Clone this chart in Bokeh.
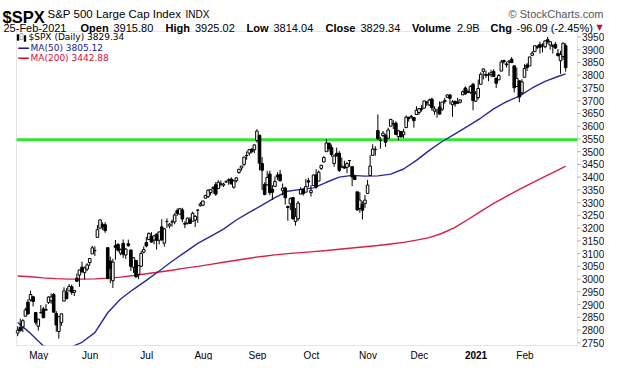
import pandas as pd
from bokeh.plotting import figure
from bokeh.models import Range1d, Label, BoxAnnotation
from bokeh.embed import file_html
from bokeh.resources import INLINE

# ---------------- data ----------------
holidays = ["2020-05-25", "2020-07-03", "2020-09-07", "2020-11-26",
            "2020-12-25", "2021-01-01", "2021-01-18", "2021-02-15"]
dates = [d for d in pd.bdate_range("2020-04-22", "2021-02-25")
         if d.strftime("%Y-%m-%d") not in holidays]

opens = [
    2787.89, 2810.42, 2812.64, 2854.65, 2909.96, 2918.46, 2930.91,
    2869.09, 2815.01, 2868.88, 2883.14, 2878.26, 2908.83, 2915.46, 2939.50, 2865.86, 2794.54,
    2829.95, 2913.86, 2948.59, 2953.63, 2969.95, 2948.05, 3004.08, 3015.65, 3046.61, 3025.17,
    3038.78, 3064.78, 3098.90, 3111.56, 3163.84, 3199.92, 3213.32, 3213.42, 3123.53, 3071.04,
    2993.76, 3131.00, 3136.13, 3101.64, 3140.29, 3094.42, 3138.70, 3114.40, 3046.60, 3073.20, 3018.59, 3050.20,
    3105.92, 3143.64, 3155.29, 3166.44, 3153.07, 3176.17, 3152.47, 3205.08, 3141.11, 3225.98,
    3208.36, 3224.21, 3224.29, 3268.52, 3254.86, 3271.64, 3218.58, 3219.84, 3234.27, 3227.22, 3231.76, 3270.45,
    3288.26, 3289.92, 3317.37, 3323.17, 3340.05, 3356.04, 3370.34, 3355.46, 3372.95, 3368.66,
    3380.86, 3387.04, 3392.51, 3360.48, 3386.01, 3418.09, 3435.95, 3449.97, 3485.14, 3494.69, 3509.73,
    3507.44, 3543.76, 3564.74, 3453.60, 3371.88, 3369.82, 3412.56, 3352.70, 3363.56, 3407.73,
    3411.23, 3346.86, 3357.38, 3285.57, 3295.75, 3320.11, 3226.14, 3236.66, 3333.90, 3350.92, 3341.21,
    3385.87, 3338.94, 3367.27, 3408.74, 3384.56, 3434.28, 3459.67, 3500.02, 3534.01, 3515.47,
    3453.72, 3493.50, 3493.66, 3439.38, 3439.91, 3438.50, 3464.90, 3441.42, 3403.15, 3342.48, 3277.17, 3293.59,
    3296.20, 3336.25, 3406.46, 3485.74, 3508.34, 3583.04, 3543.26, 3563.22, 3562.67, 3552.57,
    3600.16, 3610.31, 3612.09, 3559.41, 3579.31, 3566.82, 3594.52, 3635.50, 3638.55, 3634.18,
    3645.87, 3653.78, 3668.28, 3670.94, 3694.73, 3683.05, 3705.98, 3659.13, 3656.08, 3675.27,
    3666.41, 3696.25, 3713.65, 3722.39, 3684.28, 3698.08, 3693.42, 3694.03, 3723.03, 3750.01, 3736.19, 3733.27,
    3764.61, 3698.02, 3712.20, 3764.71, 3815.05, 3803.14, 3801.62, 3802.23, 3814.98, 3788.73,
    3781.88, 3816.22, 3857.46, 3844.24, 3851.68, 3862.96, 3836.83, 3755.75, 3778.05,
    3731.17, 3791.84, 3840.27, 3836.66, 3878.30, 3892.59, 3910.49, 3920.78, 3916.40, 3911.65,
    3939.61, 3918.50, 3915.86, 3921.16, 3885.55, 3857.07, 3873.71, 3915.80,
]
highs = [
    2815.10, 2844.24, 2842.71, 2887.72, 2921.15, 2954.86, 2930.91,
    2869.09, 2844.24, 2898.23, 2891.11, 2901.92, 2932.16, 2944.25, 2945.82, 2874.14, 2852.80,
    2865.01, 2968.09, 2964.21, 2980.29, 2978.50, 2956.76, 3021.72, 3036.25, 3068.67, 3049.17,
    3062.18, 3081.07, 3130.94, 3128.91, 3211.72, 3233.13, 3222.71, 3223.27, 3123.53, 3088.42,
    3079.76, 3153.45, 3141.16, 3120.00, 3155.53, 3120.92, 3154.90, 3115.01, 3086.25, 3073.73, 3053.89, 3111.51,
    3128.44, 3165.81, 3182.59, 3184.15, 3171.80, 3179.78, 3186.82, 3235.32, 3200.95, 3238.28,
    3220.39, 3233.52, 3258.61, 3277.29, 3279.32, 3279.99, 3227.26, 3241.43, 3243.72, 3264.74, 3250.92, 3272.17,
    3302.73, 3306.84, 3330.77, 3351.03, 3352.54, 3363.29, 3381.01, 3387.89, 3387.24, 3378.51,
    3387.59, 3395.06, 3399.54, 3390.80, 3399.96, 3432.09, 3444.21, 3481.07, 3501.38, 3509.23, 3514.77,
    3528.03, 3588.11, 3564.85, 3479.15, 3379.97, 3424.77, 3425.55, 3368.95, 3402.93, 3419.48,
    3428.92, 3375.17, 3362.27, 3285.57, 3320.31, 3323.35, 3278.70, 3306.88, 3360.74, 3357.92, 3393.56,
    3397.18, 3369.10, 3409.57, 3431.56, 3426.26, 3447.28, 3482.34, 3549.85, 3534.01, 3527.94,
    3489.08, 3515.76, 3502.42, 3476.93, 3464.86, 3460.53, 3466.46, 3441.42, 3409.51, 3342.48, 3341.05, 3304.93,
    3330.14, 3389.49, 3486.25, 3529.05, 3521.58, 3645.99, 3557.22, 3581.16, 3569.02, 3593.66,
    3628.51, 3623.11, 3619.09, 3585.22, 3581.23, 3589.81, 3642.31, 3635.50, 3644.31, 3634.18,
    3678.45, 3670.96, 3682.73, 3699.20, 3697.41, 3708.45, 3712.39, 3678.49, 3665.91, 3697.61,
    3695.29, 3711.27, 3725.12, 3726.70, 3702.90, 3698.26, 3711.24, 3703.82, 3740.51, 3756.12, 3744.63, 3760.20,
    3769.99, 3737.83, 3783.04, 3811.55, 3826.69, 3817.86, 3810.78, 3820.96, 3823.60, 3788.73,
    3804.53, 3859.75, 3861.45, 3852.31, 3859.23, 3870.90, 3836.83, 3830.50, 3778.05,
    3784.32, 3843.09, 3847.51, 3872.42, 3894.56, 3915.77, 3918.35, 3931.50, 3925.99, 3937.23,
    3950.43, 3933.61, 3921.98, 3930.41, 3902.92, 3895.98, 3928.65, 3925.02,
]
lows = [
    2775.95, 2794.26, 2791.76, 2852.89, 2860.71, 2912.16, 2892.47,
    2821.61, 2797.85, 2863.55, 2847.65, 2876.48, 2902.88, 2903.44, 2869.59, 2793.15, 2766.64,
    2816.78, 2913.86, 2922.35, 2953.63, 2938.57, 2933.59, 2988.17, 2969.75, 3023.40, 2998.61,
    3031.54, 3051.64, 3098.90, 3090.41, 3163.84, 3196.00, 3193.11, 3181.49, 2999.49, 2984.47,
    2965.66, 3076.06, 3108.03, 3093.51, 3083.11, 3079.39, 3127.12, 3032.13, 3024.01, 3004.63, 2999.74, 3047.83,
    3101.17, 3124.52, 3155.29, 3142.93, 3136.53, 3115.70, 3136.22, 3149.43, 3127.66, 3200.76,
    3198.59, 3205.65, 3215.16, 3247.77, 3253.10, 3222.66, 3200.05, 3214.25, 3216.17, 3227.22, 3204.13, 3220.26,
    3284.53, 3286.37, 3317.37, 3318.14, 3328.72, 3335.44, 3326.44, 3355.46, 3363.35, 3361.64,
    3379.22, 3370.15, 3369.66, 3354.69, 3379.31, 3413.13, 3425.84, 3444.15, 3468.35, 3484.32, 3493.25,
    3494.60, 3535.23, 3427.41, 3349.63, 3329.27, 3366.84, 3329.25, 3310.47, 3363.56, 3389.25,
    3384.45, 3328.82, 3292.40, 3229.10, 3270.95, 3232.57, 3209.45, 3228.44, 3332.91, 3327.54, 3340.47,
    3361.39, 3323.69, 3367.27, 3354.54, 3384.56, 3428.15, 3458.07, 3499.61, 3500.86, 3480.55,
    3440.89, 3480.45, 3419.93, 3435.65, 3433.06, 3415.34, 3440.45, 3364.86, 3388.71, 3268.89, 3259.82, 3233.94,
    3279.74, 3336.25, 3405.17, 3485.74, 3484.34, 3547.48, 3511.91, 3557.00, 3518.58, 3552.57,
    3600.16, 3588.68, 3567.33, 3543.84, 3556.85, 3552.77, 3594.52, 3617.76, 3629.33, 3594.39,
    3645.87, 3644.84, 3657.17, 3670.94, 3678.88, 3678.83, 3660.54, 3645.18, 3633.40, 3645.84,
    3659.62, 3688.57, 3710.87, 3685.84, 3636.48, 3676.16, 3689.28, 3689.32, 3723.03, 3723.31, 3730.21, 3726.88,
    3662.71, 3695.07, 3705.34, 3764.71, 3783.60, 3789.02, 3776.51, 3791.50, 3792.86, 3749.62,
    3780.37, 3816.22, 3845.05, 3830.41, 3797.16, 3847.78, 3732.48, 3755.75, 3694.12,
    3725.62, 3791.84, 3816.68, 3836.66, 3874.93, 3892.59, 3902.64, 3884.94, 3890.39, 3905.78,
    3923.85, 3900.43, 3885.03, 3903.07, 3874.71, 3805.59, 3859.60, 3814.04,
]
closes = [
    2799.31, 2797.80, 2836.74, 2878.48, 2863.39, 2939.51, 2912.43,
    2830.71, 2842.74, 2868.44, 2848.42, 2881.19, 2929.80, 2930.32, 2870.12, 2820.00, 2852.50,
    2863.70, 2953.91, 2922.94, 2971.61, 2948.51, 2955.45, 2991.77, 3036.13, 3029.73, 3044.31,
    3055.73, 3080.82, 3122.87, 3112.35, 3193.93, 3232.39, 3207.18, 3190.14, 3002.10, 3041.31,
    3066.59, 3124.74, 3113.49, 3115.34, 3097.74, 3117.86, 3131.29, 3050.33, 3083.76, 3009.05, 3053.24, 3100.29,
    3115.86, 3130.01, 3179.72, 3145.32, 3169.94, 3152.05, 3185.04, 3155.22, 3197.52, 3226.56,
    3215.57, 3224.73, 3251.84, 3257.30, 3276.02, 3235.66, 3215.63, 3239.41, 3218.44, 3258.44, 3246.22, 3271.12,
    3294.61, 3306.51, 3327.77, 3349.16, 3351.28, 3360.47, 3333.69, 3380.35, 3373.43, 3372.85,
    3381.99, 3389.78, 3374.85, 3385.51, 3397.16, 3431.28, 3443.62, 3478.73, 3484.55, 3508.01, 3500.31,
    3526.65, 3580.84, 3455.06, 3426.96, 3331.84, 3398.96, 3339.19, 3340.97, 3383.54, 3401.20,
    3385.49, 3357.01, 3319.47, 3281.06, 3315.57, 3236.92, 3246.59, 3298.46, 3351.60, 3335.47, 3363.00,
    3380.80, 3348.42, 3408.60, 3360.97, 3419.44, 3446.83, 3477.14, 3534.22, 3511.93, 3488.67,
    3483.34, 3483.81, 3426.92, 3443.12, 3435.56, 3453.49, 3465.39, 3400.97, 3390.68, 3271.03, 3310.11, 3269.96,
    3310.24, 3369.16, 3443.44, 3510.45, 3509.44, 3550.50, 3545.53, 3572.66, 3537.01, 3585.15,
    3626.91, 3609.53, 3567.79, 3581.87, 3557.54, 3577.59, 3635.41, 3629.65, 3638.35, 3621.63,
    3662.45, 3669.01, 3666.72, 3699.12, 3691.96, 3702.25, 3672.82, 3668.10, 3663.46, 3647.49,
    3694.62, 3701.17, 3722.48, 3709.41, 3694.92, 3687.26, 3690.01, 3703.06, 3735.36, 3727.04, 3732.04, 3756.07,
    3700.65, 3726.86, 3748.14, 3803.79, 3824.68, 3799.61, 3801.19, 3809.84, 3795.54, 3768.25,
    3798.91, 3851.85, 3853.07, 3841.47, 3855.36, 3849.62, 3750.77, 3787.38, 3714.24,
    3773.86, 3826.31, 3830.17, 3871.74, 3886.83, 3915.59, 3911.23, 3909.88, 3916.38, 3934.83,
    3932.59, 3931.33, 3913.97, 3906.71, 3876.50, 3881.37, 3925.43, 3829.34,
]

# moving averages, one value every 5th session (+ last session)
ma50 = [2830, 2787, 2738, 2726, 2730, 2752, 2790, 2868, 2922, 2960,
        2995, 3032, 3070, 3105, 3140, 3168, 3196, 3232, 3262, 3290,
        3320, 3345, 3352, 3358, 3380, 3400, 3407, 3404, 3405, 3412,
        3432, 3466, 3505, 3540, 3570, 3600, 3632, 3668, 3696, 3718,
        3750, 3776, 3795, 3805.12]
ma200 = [3012, 3009, 3005, 3002, 3000, 3000, 3001, 3004, 3008, 3014,
         3021, 3028, 3035, 3043, 3050, 3058, 3066, 3074, 3082, 3089,
         3095, 3100, 3104, 3108, 3112, 3117, 3122, 3127, 3132, 3138,
         3144, 3153, 3163, 3180, 3203, 3234, 3266, 3297, 3325, 3352,
         3378, 3403, 3428, 3442.88]
support_level = 3547

y_ticks = list(range(2750, 4000, 50))
month_names = ["May", "Jun", "Jul", "Aug", "Sep", "Oct", "Nov", "Dec", "2021", "Feb"]

# ---------------- derived ----------------
n = min(len(dates), len(opens), len(highs), len(lows), len(closes))
idx = list(range(n))
ma_days = [i for i in range(0, n, 5)]
if ma_days[-1] != n - 1:
    ma_days.append(n - 1)
m = min(len(ma_days), len(ma50), len(ma200))
month_starts = [i for i in range(1, n) if dates[i].month != dates[i - 1].month]

up_x = [i for i in idx if closes[i] >= opens[i]]
dn_x = [i for i in idx if closes[i] < opens[i]]

# ---------------- geometry (canvas pixels) ----------------
W, H = 604, 360
FL, FR, FT, FB = 16, 577, 31, 345          # price box inside the canvas
X0, X1 = -0.46, 217.6                      # sessions shown in the box
Y0, Y1 = 2739.5, 3971.6                    # prices shown in the box
sx = (X1 - X0) / (FR - FL)
sy = (Y1 - Y0) / (FB - FT)
GRAY = "#a8a8a8"
SANS = "Liberation Sans"
WIDE = "DejaVu Sans"

# the plotting frame covers the whole canvas; the price box is drawn inside it
p = figure(width=W, height=H, output_backend="svg", toolbar_location=None,
           x_range=Range1d(X0 - FL * sx, X1 + (W - FR) * sx),
           y_range=Range1d(Y0 - (H - FB) * sy, Y1 + FT * sy),
           x_axis_location=None, y_axis_location=None,
           min_border_left=0, min_border_right=0, min_border_top=0, min_border_bottom=0)
p.xgrid.visible = False
p.ygrid.visible = False
p.outline_line_color = None
p.background_fill_color = "white"
p.border_fill_color = "white"

# support line
p.line([X0, X1], [support_level, support_level], line_color="#2ee82e", line_width=3)

# moving averages
p.line([ma_days[i] for i in range(m)], ma200[:m], line_color="#dc1e46", line_width=1.4)
p.line([ma_days[i] for i in range(m)], ma50[:m], line_color="#2828a0", line_width=1.4)

# candles
p.segment(x0=idx, y0=lows[:n], x1=idx, y1=highs[:n], line_color="black", line_width=1)
p.vbar(x=up_x, top=[closes[i] for i in up_x], bottom=[opens[i] for i in up_x],
       width=1.0, fill_color="white", line_color="black", line_width=1)
p.vbar(x=dn_x, top=[opens[i] for i in dn_x], bottom=[closes[i] for i in dn_x],
       width=1.0, fill_color="black", line_color="black", line_width=1)

# price-axis ticks on the right of the box
p.segment(x0=[X1] * len(y_ticks), x1=[X1 + 3 * sx] * len(y_ticks),
          y0=y_ticks, y1=y_ticks, line_color=GRAY, line_width=1)

# mask anything below the box, then draw the box border
p.add_layout(BoxAnnotation(left=X0 - FL * sx, right=X1 + (W - FR) * sx,
                           bottom=Y0 - (H - FB) * sy, top=Y0,
                           fill_color="white", fill_alpha=1, line_color=None))
p.add_layout(BoxAnnotation(left=X0, right=X1, bottom=Y0, top=Y1,
                           fill_alpha=0, line_color=GRAY, line_width=1))


def label(text, x, y, size, bold=False, color="black", font=SANS,
          align="left", baseline="alphabetic", units="canvas"):
    p.add_layout(Label(x=x, y=y, x_units=units, y_units=units,
                       text=text, text_font=font, text_font_size=f"{size}px",
                       text_font_style="bold" if bold else "normal",
                       text_color=color, text_align=align, text_baseline=baseline))


# price-axis labels
for v in y_ticks:
    label(str(v), X1 + 4.5 * sx, v, 10, color="#111111", baseline="middle", units="data")

# header row 1
label("$SPX", 2, 16, 16.5, bold=True)
label("S&P 500 Large Cap Index", 47, 13.5, 11.5)
label("INDX", 185, 13.5, 10)
label("\u00a9 StockCharts.com", 603, 13.5, 11, color="#555555", align="right")

# header row 2
row2 = [("25-Feb-2021", 3, False), ("Open", 80, True), ("3915.80", 113, False),
        ("High", 165, True), ("3925.02", 194.5, False), ("Low", 246, True),
        ("3814.04", 273, False), ("Close", 325, True), ("3829.34", 360, False),
        ("Volume", 411.5, True), ("2.9B", 456.5, False), ("Chg", 490, True),
        ("-96.09 (-2.45%)", 516, False)]
for t, x, b in row2:
    label(t, x, 27.5, 11, bold=b)
label("\u25bc", 596, 26.5, 8, color="#b01040", font=WIDE)

# legend inside the box
label("$SPX (Daily) 3829.34", 28, 36.5, 9, font=WIDE, baseline="middle")
label("MA(50) 3805.12", 30, 47, 9, color="#1a1a8c", font=WIDE, baseline="middle")
label("MA(200) 3442.88", 30, 57.5, 9, color="#d0103c", font=WIDE, baseline="middle")
label("\u2014", 17, 47, 12, bold=True, color="#1a1a8c", font=WIDE, baseline="middle")
label("\u2014", 17, 57.5, 12, bold=True, color="#d0103c", font=WIDE, baseline="middle")
for (l, r, top_y, bot_y, fill) in [(16.5, 18.5, 34, 40, "black"), (19.5, 22.5, 33, 39, "white"),
                                   (23.5, 25.5, 35, 41, "black")]:
    p.add_layout(BoxAnnotation(left=l, right=r, bottom=H - bot_y, top=H - top_y,
                               left_units="screen", right_units="screen",
                               top_units="screen", bottom_units="screen",
                               fill_color=fill, fill_alpha=1, line_color="black",
                               line_width=1))

# month labels under the box
for k, i in enumerate(month_starts[:len(month_names)]):
    nm = month_names[k]
    px = FL + (i - X0) / sx + 3
    label(nm, px, FB + 9.5, 10, bold=nm.isdigit(), align="center")

open("out.html", "w").write(file_html(p, INLINE))
